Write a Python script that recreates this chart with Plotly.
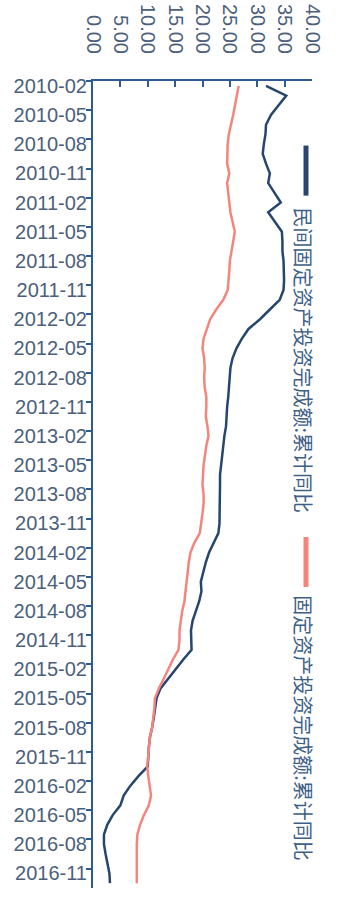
import plotly.graph_objects as go

# month categories 2010-02 .. 2016-12
months = []
for yr in range(2010, 2017):
    for m in range(1, 13):
        if yr == 2010 and m < 2:
            continue
        months.append(f"{yr}-{m:02d}")

series_names = ["民间固定资产投资完成额:累计同比", "固定资产投资完成额:累计同比"]

private_inv = [
    31.6, 35.3, 33.9, 32.5, 31.6, 31.5, 31.2, 31.0, 31.6, 32.3, 32.0,          # 2010-02..12
    33.2, 34.3, 32.0, 33.2, 34.5, 34.6, 34.6, 34.8, 34.9, 34.9, 34.8, 34.1,    # 2011
    32.3, 30.5, 28.4, 27.2, 26.2, 25.5, 25.1, 25.0, 24.9, 24.7, 24.5, 24.4,    # 2012
    24.3, 24.0, 23.8, 23.7, 23.4, 23.2, 23.2, 23.2, 23.2, 23.2, 23.1, 22.9,    # 2013
    22.1, 21.2, 20.6, 20.2, 19.7, 19.8, 19.4, 18.8, 18.2, 17.9, 17.9, 18.0,    # 2014
    16.5, 15.1, 13.6, 12.3, 11.6, 11.4, 11.1, 10.8, 10.4, 10.2, 10.1, 10.0,    # 2015
    8.3, 6.8, 5.6, 5.0, 3.6, 2.6, 2.0, 2.0, 2.3, 2.7, 3.0, 3.1,                # 2016
]

total_inv = [
    26.6, 26.3, 25.9, 25.6, 25.2, 24.8, 24.6, 24.5, 24.5, 24.9, 24.5,          # 2010-02..12
    24.7, 24.9, 25.1, 25.5, 25.9, 25.6, 25.3, 25.0, 24.9, 24.8, 24.6, 23.8,    # 2011
    22.5, 21.4, 20.8, 20.2, 20.0, 20.3, 20.4, 20.3, 20.4, 20.7, 20.7, 20.6,    # 2012
    20.9, 21.1, 20.7, 20.4, 20.2, 20.1, 20.0, 20.2, 20.2, 20.0, 19.8, 19.5,    # 2013
    18.5, 17.8, 17.5, 17.3, 17.1, 17.0, 16.7, 16.3, 16.0, 15.8, 15.8, 15.6,    # 2014
    14.6, 13.8, 12.9, 12.0, 11.3, 11.2, 11.0, 10.8, 10.4, 10.2, 10.1, 9.9,     # 2015
    10.1, 10.3, 10.6, 10.2, 9.3, 8.6, 8.1, 8.0, 8.0, 8.1, 8.1, 8.0,            # 2016
]

colors = ["#26466d", "#f4857d"]
axis_color = "#2d5b8e"
label_color = "#4b5f7c"

fig = go.Figure()
for name, vals, col in zip(series_names, [private_inv, total_inv], colors):
    fig.add_trace(go.Scatter(
        x=vals, y=months, mode="lines", name=name,
        line=dict(color=col, width=2.5), showlegend=False,
    ))

fig.update_layout(
    width=338, height=912,
    margin=dict(l=93, r=26, t=81, b=24),
    paper_bgcolor="white", plot_bgcolor="white",
    font=dict(family="Liberation Sans, Arial, sans-serif", color=label_color),
    xaxis=dict(
        side="top", range=[0, 40], tickmode="linear", tick0=0, dtick=5,
        tickformat=".2f", tickangle=90, automargin=False,
        showline=True, linecolor=axis_color, linewidth=2,
        ticks="inside", ticklen=6, tickwidth=2, tickcolor=axis_color,
        showgrid=False, zeroline=False,
        tickfont=dict(size=20, color=label_color),
        ticklabelstandoff=18,
    ),
    yaxis=dict(
        type="category", categoryorder="array", categoryarray=months,
        range=[len(months) - 0.5, -0.5], automargin=False,
        tickmode="linear", tick0=0, dtick=3, tickson="boundaries",
        showline=True, linecolor=axis_color, linewidth=2,
        ticks="outside", ticklen=5, tickwidth=2, tickcolor=axis_color,
        showgrid=False, zeroline=False,
        tickfont=dict(size=20, color=label_color),
    ),
)

# rotated legend (chart is rotated 90 degrees)
legend_items = [
    (series_names[0], colors[0], 0.920, 0.858, 0.846),
    (series_names[1], colors[1], 0.435, 0.373, 0.3654),
]
for name, col, y0, y1, ytext in legend_items:
    fig.add_shape(type="line", xref="paper", yref="paper",
                  x0=0.9726, x1=0.9726, y0=y0, y1=y1,
                  line=dict(color=col, width=5))
    fig.add_annotation(
        xref="paper", yref="paper", x=0.963, y=ytext,
        text=name, textangle=90, showarrow=False,
        xanchor="center", yanchor="top",
        font=dict(family="Noto Sans CJK SC", size=20, color="#3e5f88"),
    )

fig.write_html("out.html")
